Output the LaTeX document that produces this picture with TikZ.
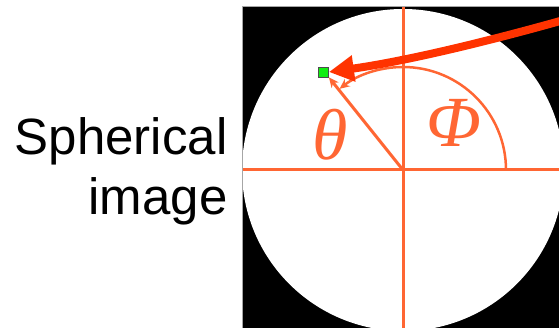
\documentclass[tikz,border=0pt]{standalone}
\usepackage{amsmath}
\usepackage{fontspec}
\setmainfont{Liberation Sans}
\newfontfamily\greekfont{Liberation Serif}
\usepackage{xcolor}
\usetikzlibrary{arrows.meta, positioning}
\definecolor{axisorange}{HTML}{FF6633}
\definecolor{pointerred}{HTML}{FF3300}
\definecolor{pixelgreen}{HTML}{11EE11}

\begin{document}
\begin{tikzpicture}[x=1pt, y=1pt,
    axis/.style={axisorange, line width=3pt},
    anglearrow/.style={axisorange, line width=2.5pt, -{Stealth[length=10pt, width=9pt]}},
    sym/.style={axisorange, inner sep=0pt, font=\greekfont\itshape\fontsize{72}{72}\selectfont},
    pixel/.style={draw=black!70, fill=pixelgreen, line width=0.8pt, minimum size=10pt, inner sep=0pt},
    pointer/.style={pointerred, line width=8pt, -{Triangle[length=25pt, width=25pt]}}]
		% Frame, sphere and axes:
		\useasboundingbox (0,0) rectangle (559,328);
		\node[font=\fontsize{51}{60}\selectfont, align=right, anchor=base east] (label) at (231,113) {Spherical\\image};
		\coordinate (o) at (403,158);
		\coordinate (west) at (242,158);
		\coordinate (east) at (559,158);
		\coordinate (north) at (403,321);
		\coordinate (south) at (403,0);
		\begin{scope}
			\clip (242,0) rectangle (559,321);
			\fill[black] (242,0) rectangle (559,321);
			\fill[white] (o) circle (161);
			\draw[axis] (west) -- (east);
			\draw[axis] (south) -- (north);
		\end{scope}
		\draw[black!35, line width=1pt] (242,0) -- (242,321) -- (559,321);
		% Angles and the marked pixel:
		\node[pixel] (pt) at (323.5,256) {};
		\draw[anglearrow, line width=3pt] (o) -- (pt.south east);
		\draw[anglearrow] ([shift={(0:103)}]o) arc[start angle=0, end angle=128, radius=103];
		\node[sym, anchor=base] (theta) at (330,168) {θ};
		\node[sym, anchor=base] (phi) at (454,181) {Φ};
		\coordinate (src) at (578,312);
		\draw[pointer] (src) .. controls (480,284) and (400,266) .. (pt.east);
	\end{tikzpicture}
\end{document}
